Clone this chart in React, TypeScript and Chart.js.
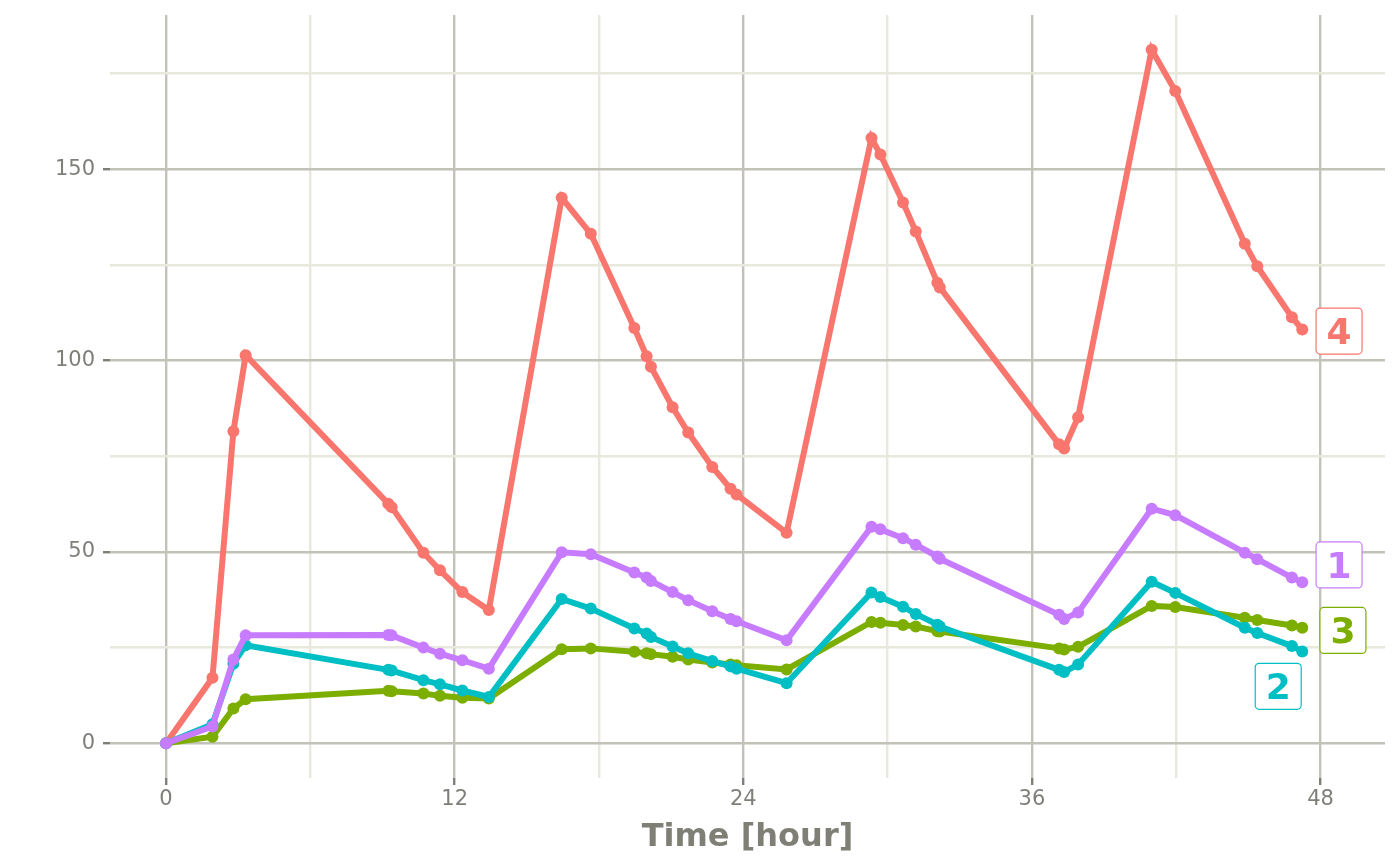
import { useEffect, useRef } from 'react';
import { Chart, registerables } from 'chart.js';

Chart.register(...registerables);

// sampling times (hours), shared by all subjects
const hours = [
  0, 1.93, 2.8, 3.31, 9.24, 9.38, 10.7, 11.39, 12.32, 13.42,
  16.45, 17.66, 19.47, 19.98, 20.16, 21.06, 21.71, 22.71, 23.47, 23.72, 25.8,
  29.33, 29.7, 30.64, 31.17, 32.07, 32.17, 37.13, 37.34, 37.92,
  40.98, 41.96, 44.85, 45.37, 46.81, 47.24,
];

const subject1 = [
  0, 4.4, 21.9, 28.2, 28.3, 28.2, 25.0, 23.4, 21.7, 19.5,
  49.9, 49.4, 44.6, 43.3, 42.4, 39.5, 37.4, 34.5, 32.5, 31.9, 26.9,
  56.6, 55.9, 53.6, 51.9, 48.8, 48.2, 33.6, 32.5, 34.2,
  61.3, 59.6, 49.8, 48.1, 43.3, 42.1,
];
const subject2 = [
  0, 5.0, 20.8, 25.6, 19.2, 19.0, 16.5, 15.4, 13.8, 12.1,
  37.7, 35.2, 30.0, 28.7, 27.8, 25.3, 23.5, 21.5, 20.1, 19.5, 15.7,
  39.4, 38.2, 35.7, 33.8, 31.0, 30.5, 19.2, 18.6, 20.6,
  42.2, 39.3, 30.2, 28.8, 25.4, 24.0,
];
const subject3 = [
  0, 1.7, 9.1, 11.5, 13.7, 13.6, 13.0, 12.4, 11.9, 11.7,
  24.6, 24.8, 23.9, 23.5, 23.3, 22.6, 21.9, 21.1, 20.6, 20.4, 19.3,
  31.7, 31.5, 30.9, 30.5, 29.3, 29.2, 24.8, 24.5, 25.2,
  35.9, 35.6, 32.8, 32.2, 30.8, 30.2,
];
const subject4 = [
  0, 17.1, 81.5, 101.4, 62.6, 61.7, 49.8, 45.2, 39.5, 34.8,
  142.5, 133.1, 108.5, 101.1, 98.4, 87.8, 81.2, 72.2, 66.5, 65.0, 55.0,
  158.1, 153.8, 141.3, 133.7, 120.3, 119.1, 78.1, 77.0, 85.2,
  181.2, 170.4, 130.5, 124.6, 111.3, 108.1,
];

const subjectNames = ['1', '2', '3', '4'];
const subjectValues = [subject1, subject2, subject3, subject4];
const subjectColors = ['#C77CFF', '#00BFC4', '#7CAE00', '#F8766D'];

// label anchors (data units)
const labelX = [48.77, 46.24, 48.93, 48.77];
const labelY = [46.6, 14.9, 29.5, 107.7];

const xGrid = [0, 6, 12, 18, 24, 30, 36, 42, 48];
const xLabels = [0, 12, 24, 36, 48];
const yGrid = [0, 25, 50, 75, 100, 125, 150, 175];
const yLabels = [0, 50, 100, 150];

const majorGrid = '#c2c2b8';
const minorGrid = '#e8e8dc';
const tickGray = '#7f7f7a';
const titleGray = '#7f7f76';

const endLabels = {
  id: 'endLabels',
  afterDatasetsDraw(chart: Chart) {
    const { ctx } = chart;
    const x = chart.scales.x;
    const y = chart.scales.y;
    ctx.save();
    ctx.font = 'bold 36px "DejaVu Sans"';
    ctx.textAlign = 'center';
    ctx.textBaseline = 'alphabetic';
    subjectNames.forEach((name, i) => {
      const cx = x.getPixelForValue(labelX[i]);
      const cy = y.getPixelForValue(labelY[i]);
      const w = 46;
      const h = 46;
      ctx.beginPath();
      ctx.roundRect(cx - w / 2, cy - h / 2, w, h, 4);
      ctx.fillStyle = '#ffffff';
      ctx.fill();
      ctx.lineWidth = 1.2;
      ctx.strokeStyle = subjectColors[i];
      ctx.stroke();
      ctx.fillStyle = subjectColors[i];
      ctx.fillText(name, cx, cy + 13);
    });
    ctx.restore();
  },
};

export default function App() {
  const canvasRef = useRef<HTMLCanvasElement>(null);
  const chartRef = useRef<Chart | null>(null);

  useEffect(() => {
    if (!canvasRef.current) return;
    if (chartRef.current) chartRef.current.destroy();

    Chart.defaults.font.family = '"DejaVu Sans"';

    chartRef.current = new Chart(canvasRef.current, {
      type: 'line',
      data: {
        datasets: subjectNames.map((name, i) => ({
          label: name,
          data: hours.map((h, j) => ({ x: h, y: subjectValues[i][j] })),
          borderColor: subjectColors[i],
          backgroundColor: subjectColors[i],
          pointBackgroundColor: subjectColors[i],
          borderWidth: 6,
          pointRadius: 6,
          pointBorderWidth: 0,
          tension: 0,
          fill: false,
        })),
      },
      options: {
        animation: false,
        responsive: true,
        maintainAspectRatio: false,
        layout: { padding: { top: 15, right: 15, left: 0, bottom: 0 } },
        plugins: {
          legend: { display: false },
          tooltip: { enabled: false },
        },
        scales: {
          x: {
            type: 'linear',
            min: -2.33,
            max: 50.68,
            afterBuildTicks: (s: any) => {
              s.ticks = xGrid.map((v) => ({ value: v }));
            },
            afterFit: (s: any) => {
              s.height = 87;
              s.paddingLeft = 0;
              s.paddingRight = 0;
            },
            border: { display: false },
            grid: {
              color: (c: any) => (xLabels.includes(c.tick?.value) ? majorGrid : minorGrid),
              tickColor: (c: any) => (xLabels.includes(c.tick?.value) ? tickGray : 'rgba(0,0,0,0)'),
              lineWidth: 2.4,
              tickWidth: 2.4,
              tickLength: 7,
            },
            ticks: {
              autoSkip: false,
              maxRotation: 0,
              padding: 2,
              color: tickGray,
              font: { size: 21 },
              callback: (v: any) => (xLabels.includes(Number(v)) ? String(v) : ''),
            },
            title: {
              display: true,
              text: 'Time [hour]',
              color: titleGray,
              font: { size: 32, weight: 'bold' },
              padding: { top: 0, bottom: 8 },
            },
          },
          y: {
            type: 'linear',
            min: -9.06,
            max: 190.26,
            afterBuildTicks: (s: any) => {
              s.ticks = yGrid.map((v) => ({ value: v }));
            },
            afterFit: (s: any) => {
              s.width = 110;
              s.paddingTop = 0;
              s.paddingBottom = 0;
            },
            border: { display: false },
            grid: {
              color: (c: any) => (yLabels.includes(c.tick?.value) ? majorGrid : minorGrid),
              tickColor: (c: any) => (yLabels.includes(c.tick?.value) ? tickGray : 'rgba(0,0,0,0)'),
              lineWidth: 2.4,
              tickWidth: 2.4,
              tickLength: 7,
            },
            ticks: {
              autoSkip: false,
              padding: 8,
              color: tickGray,
              font: { size: 21 },
              callback: (v: any) => (yLabels.includes(Number(v)) ? String(v) : ''),
            },
          },
        },
      },
      plugins: [endLabels],
    });

    return () => {
      if (chartRef.current) {
        chartRef.current.destroy();
        chartRef.current = null;
      }
    };
  }, []);

  return (
    <div style={{ position: 'fixed', left: 0, top: 0, width: 1400, height: 865, background: '#ffffff' }}>
      <canvas ref={canvasRef}></canvas>
    </div>
  );
}
